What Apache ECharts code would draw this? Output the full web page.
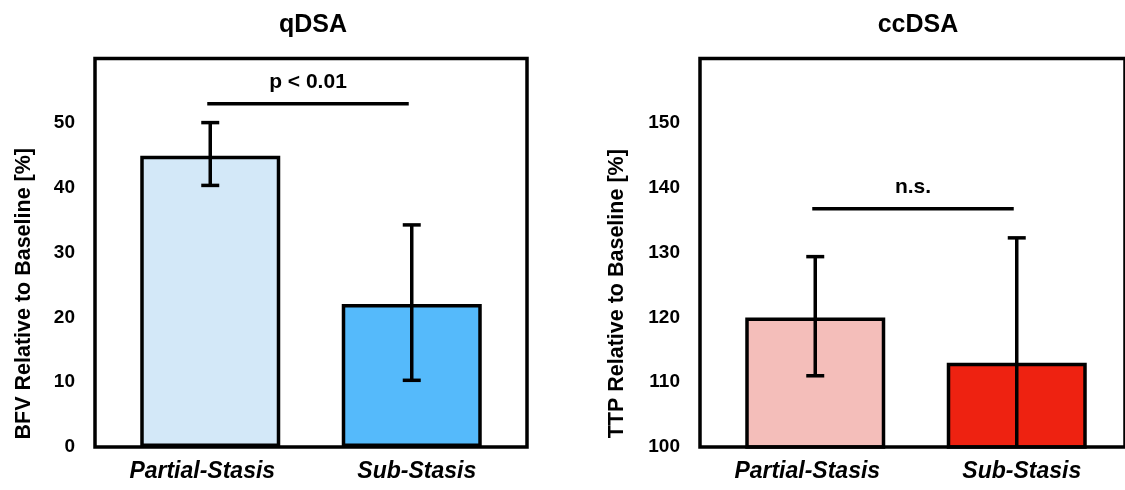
<!DOCTYPE html>
<html>
<head>
<meta charset="utf-8">
<script src="https://cdn.jsdelivr.net/npm/echarts@6/dist/echarts.min.js"></script>
<style>
html,body{margin:0;padding:0;background:#fff;}
#chart{width:1125px;height:490px;}
</style>
</head>
<body>
<div id="chart"></div>
<script>
// ---- data ----
const categories = ['Partial-Stasis', 'Sub-Stasis'];
const panelTitles = ['qDSA', 'ccDSA'];
const yNames = ['BFV Relative to Baseline [%]', 'TTP Relative to Baseline [%]'];

const bfvMean = [45.0, 22.1];
const bfvLow  = [40.4, 10.3];
const bfvHigh = [50.1, 34.3];

const ttpMean = [120.0, 113.0];
const ttpLow  = [111.0, 93.7];
const ttpHigh = [129.4, 132.3];

const bfvTicks = [0, 10, 20, 30, 40, 50];
const ttpTicks = [100, 110, 120, 130, 140, 150];

const sigY = [53.0, 136.8];
const sigLabels = ['p < 0.01', 'n.s.'];

const barColors = [['#D3E8F8', '#55BAFB'], ['#F4BEBA', '#EE2211']];

// ---- chart ----
const FONT = '"Liberation Sans", Arial, Helvetica, sans-serif';
const chart = echarts.init(document.getElementById('chart'));

const TOP = 58.5, HEIGHT = 388.5;
const frames = [{left: 95, width: 432}, {left: 700, width: 432}];
const inset = 14.5;
const labelPads = [[0, 16, 0, 0], [0, 0, 0, 10]];

function errorRender(params, api) {
  const cs = params.coordSys;
  const x = api.value(0);
  const lo = api.coord([x, api.value(1)]);
  const hi = api.coord([x, api.value(2)]);
  const bottom = cs.y + cs.height;
  const cap = 9;
  const style = {stroke: '#000', lineWidth: 3.5};
  const children = [];
  let loY = lo[1];
  let loClipped = false;
  if (loY > bottom) { loY = bottom; loClipped = true; }
  children.push({type: 'line', shape: {x1: hi[0], y1: hi[1], x2: hi[0], y2: loY}, style});
  children.push({type: 'line', shape: {x1: hi[0] - cap, y1: hi[1], x2: hi[0] + cap, y2: hi[1]}, style});
  if (!loClipped) {
    children.push({type: 'line', shape: {x1: lo[0] - cap, y1: lo[1], x2: lo[0] + cap, y2: lo[1]}, style});
  }
  return {type: 'group', children};
}

function sigRender(params, api) {
  const y = api.value(1);
  const a = api.coord([0, y]);
  const b = api.coord([1, y]);
  return {
    type: 'group',
    children: [
      {type: 'line', shape: {x1: a[0] - 3, y1: a[1], x2: b[0] - 3, y2: b[1]}, style: {stroke: '#000', lineWidth: 3.5}},
      {type: 'text', x: (a[0] + b[0]) / 2 - 3, y: a[1] - 11,
       style: {text: api.value(2), fill: '#000', font: 'bold 21px ' + FONT, textAlign: 'center', textVerticalAlign: 'bottom'}}
    ]
  };
}

const grids = [], xAxes = [], yAxes = [], series = [];
const panels = [
  {mean: bfvMean, low: bfvLow, high: bfvHigh, ticks: bfvTicks, min: 0, max: 60, nameGap: 60},
  {mean: ttpMean, low: ttpLow, high: ttpHigh, ticks: ttpTicks, min: 100, max: 160, nameGap: 72}
];

panels.forEach((p, i) => {
  const f = frames[i];
  grids.push({left: f.left + inset, width: f.width - 2 * inset, top: TOP, height: HEIGHT, show: false});
  xAxes.push({
    type: 'category', gridIndex: i,
    data: categories.map((c, k) => ({value: c, textStyle: {padding: labelPads[k]}})),
    axisLine: {show: false}, axisTick: {show: false},
    axisLabel: {fontFamily: FONT, fontWeight: 'bold', fontStyle: 'italic', fontSize: 23, color: '#000', margin: 13}
  });
  yAxes.push({
    type: 'value', gridIndex: i, min: p.min, max: p.max, interval: 10, offset: inset,
    axisLine: {show: false}, axisTick: {show: false}, splitLine: {show: false},
    axisLabel: {fontFamily: FONT, fontWeight: 'bold', fontSize: 19, color: '#000', margin: 20,
      formatter: v => p.ticks.indexOf(v) >= 0 ? String(v) : ''},
    name: yNames[i], nameLocation: 'middle', nameGap: p.nameGap, nameRotate: 90,
    nameTextStyle: {fontFamily: FONT, fontWeight: 'bold', fontSize: 21.5, color: '#000', padding: [0, 82, 0, 0]}
  });
  series.push({
    type: 'bar', xAxisIndex: i, yAxisIndex: i, barWidth: 140,
    data: p.mean.map((v, k) => ({value: v, itemStyle: {color: barColors[i][k]}})),
    itemStyle: {borderColor: '#000', borderWidth: 3.5},
    emphasis: {disabled: true}, z: 2
  });
  series.push({
    type: 'custom', name: 'err' + i, xAxisIndex: i, yAxisIndex: i,
    data: p.mean.map((v, k) => [k, p.low[k], p.high[k]]),
    renderItem: errorRender, z: 5, silent: true
  });
  series.push({
    type: 'custom', name: 'sig' + i, xAxisIndex: i, yAxisIndex: i,
    data: [[0, sigY[i], sigLabels[i]]],
    dimensions: ['x', 'y', {name: 'label', type: 'ordinal'}],
    renderItem: sigRender, z: 5, silent: true
  });
});

frames.forEach((f, i) => {
  const gi = grids.length;
  grids.push({left: f.left, width: f.width, top: TOP, height: HEIGHT, show: true,
    borderColor: '#000', borderWidth: 3.5, backgroundColor: 'transparent', z: 10});
  xAxes.push({type: 'value', gridIndex: gi, show: false});
  yAxes.push({type: 'value', gridIndex: gi, show: false});
});

const titles = panelTitles.map((t, i) => ({
  text: t, left: frames[i].left + frames[i].width / 2 - 3, top: 8, textAlign: 'center',
  textStyle: {fontFamily: FONT, fontWeight: 'bold', fontSize: 25, color: '#000'}
}));

chart.setOption({
  animation: false,
  backgroundColor: '#fff',
  title: titles,
  grid: grids,
  xAxis: xAxes,
  yAxis: yAxes,
  series: series
});
</script>
</body>
</html>
